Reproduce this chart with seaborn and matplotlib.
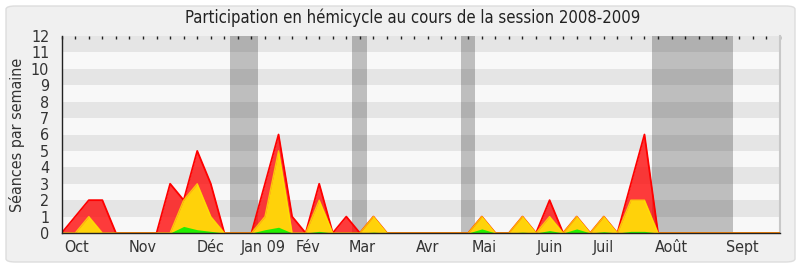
import matplotlib
matplotlib.use("Agg")
import matplotlib.pyplot as plt
from matplotlib.patches import FancyBboxPatch
import matplotlib.transforms as mtransforms
import numpy as np
import pandas as pd
import seaborn as sns

# ---------------- data ----------------
weeks = list(range(54))
total = [0, 1, 2, 2, 0, 0, 0, 0, 3, 2, 5, 3, 0, 0, 0, 3, 6, 1, 0, 3,
         0, 1, 0, 1, 0, 0, 0, 0, 0, 0, 0, 1, 0, 0, 1, 0, 2, 0, 1, 0,
         1, 0, 3, 6, 0, 0, 0, 0, 0, 0, 0, 0, 0, 0]
present = [0, 0, 1, 0, 0, 0, 0, 0, 0, 2, 3, 1, 0, 0, 0, 1, 5, 0, 0, 2,
           0, 0, 0, 1, 0, 0, 0, 0, 0, 0, 0, 1, 0, 0, 1, 0, 1, 0, 1, 0,
           1, 0, 2, 2, 0, 0, 0, 0, 0, 0, 0, 0, 0, 0]
active = [0, 0, 0, 0, 0, 0, 0, 0, 0, 0.4, 0.2, 0.1, 0, 0, 0, 0.2, 0.35, 0, 0, 0.1,
          0, 0, 0, 0.05, 0, 0, 0, 0, 0, 0, 0, 0.25, 0, 0, 0.05, 0, 0.15, 0, 0.25, 0,
          0.08, 0, 0.1, 0.1, 0, 0, 0, 0, 0, 0, 0, 0, 0, 0]
vacances = [(12.45, 14.5), (21.45, 22.5), (29.45, 30.5), (43.55, 49.55)]
month_labels = ["Oct", "Nov", "Déc", "Jan 09", "Fév", "Mar", "Avr", "Mai",
                "Juin", "Juil", "Août", "Sept"]
month_pos = [1.1, 5.95, 11, 14.9, 18.2, 22.2, 27, 31.2, 36, 40, 45, 50.2]
yticks = list(range(13))

df = pd.DataFrame({"semaine": weeks, "total": total,
                   "present": present, "actif": active})

sns.set_style("white")
plt.rcParams["font.family"] = ["DejaVu Sans"]
FONT = dict(fontstretch="condensed")
TXT = "#333333"

W, H = 800, 267
fig = plt.figure(figsize=(W / 100, H / 100), dpi=100)
fig.patch.set_facecolor("white")
bg = FancyBboxPatch((6 / W, 5 / H), 789 / W, 256 / H,
                    boxstyle="round,pad=0,rounding_size=0.012",
                    transform=fig.transFigure, facecolor="#f0f0f0",
                    edgecolor="#dddddd", lw=1, zorder=-10)
fig.patches.append(bg)

x0, x1, ytop, ybot = 61.7, 780, 36, 233
ax = fig.add_axes([x0 / W, (H - ybot) / H, (x1 - x0) / W, (ybot - ytop) / H])
ax.set_zorder(5)
ax.set_facecolor("#f8f8f8")

for k in range(12):
    ax.axhspan(k, k + 1, color="#e5e5e5" if k % 2 == 1 else "#f8f8f8",
               lw=0, zorder=0)
for a, b in vacances:
    ax.axvspan(a, b, color="black", alpha=0.23, lw=0, zorder=1)

ax.fill_between(df["semaine"], df["total"], color="#ff0000", alpha=0.76,
                lw=0, zorder=2)
sns.lineplot(data=df, x="semaine", y="total", ax=ax, color="#ff0000",
             lw=1.3, zorder=3)
ax.fill_between(df["semaine"], df["present"], color="#ffd20a", lw=0, zorder=4)
sns.lineplot(data=df, x="semaine", y="present", ax=ax, color="#ffe600",
             lw=1.0, alpha=0.8, zorder=5)
ax.fill_between(df["semaine"], df["actif"], color="#22ee00", lw=0, zorder=6)

ax.set_xlim(0, 53)
ax.set_ylim(0, 12)
ax.set_xticks(weeks)
ax.set_xticklabels([])
ax.tick_params(axis="x", which="major", direction="out", length=5, width=1,
               color="#222222")
trans = mtransforms.blended_transform_factory(ax.transData, ax.transAxes)
for pos, lab in zip(month_pos, month_labels):
    ax.text(pos, -0.035, lab, transform=trans, ha="center", va="top",
            fontsize=11.5, color=TXT, **FONT)
ax.set_yticks(yticks)
ax.set_yticklabels([str(v) for v in yticks], fontsize=11.5, color=TXT, **FONT)
ax.tick_params(axis="y", direction="out", length=4, width=1, color="#222222",
               pad=5)

top = ax.secondary_xaxis("top")
top.set_xticks(weeks)
top.set_xticklabels([])
top.tick_params(direction="in", length=2, width=1, color="#222222")
top.spines["top"].set_visible(False)

for s in ["left", "bottom"]:
    ax.spines[s].set_color("#222222")
    ax.spines[s].set_linewidth(1)
    ax.spines[s].set_zorder(10)
ax.spines["top"].set_visible(False)
ax.spines["right"].set_color("#c8c8c8")
ax.spines["right"].set_linewidth(1.5)

ax.set_xlabel("")
ax.set_ylabel("Séances par semaine", fontsize=11.5, color=TXT, labelpad=4, **FONT)
fig.text(413 / W, 1 - 18 / H, "Participation en hémicycle au cours de la session 2008-2009",
         ha="center", va="center", fontsize=12, color="#222222", **FONT)

fig.savefig("out.png", dpi=100, facecolor=fig.get_facecolor())
